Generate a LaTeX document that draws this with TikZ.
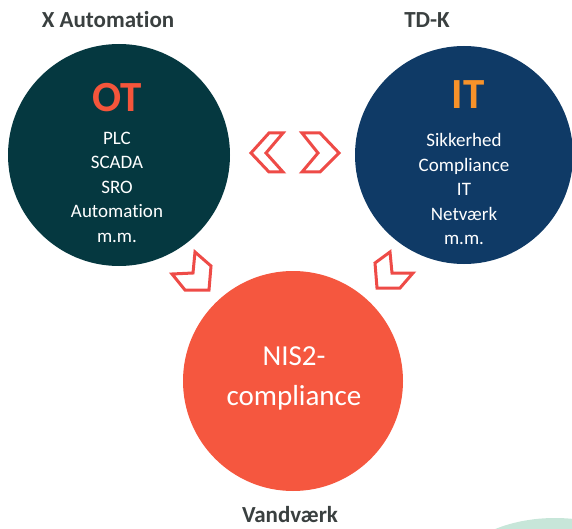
\documentclass[tikz,border=0pt]{standalone}
\usepackage{fontspec}
\setmainfont{Carlito}[Ligatures=CommonOff]
\definecolor{otcol}{HTML}{053840}
\definecolor{itcol}{HTML}{0F3A66}
\definecolor{niscol}{HTML}{F5573F}
\definecolor{ottxt}{HTML}{F5553B}
\definecolor{ittxt}{HTML}{F7922A}
\definecolor{labcol}{HTML}{3A4040}
\definecolor{chevcol}{HTML}{EE4B47}
\definecolor{greencol}{HTML}{C7E6D9}
\tikzset{
  bigcirc/.style={circle, minimum size=#1, inner sep=0pt},
  title/.style={text=labcol, inner sep=1pt, font=\bfseries\fontsize{23}{26}\selectfont},
  body/.style={text=white, align=center, font=\fontsize{19}{24.5}\selectfont},
  chev/.style={draw=chevcol, line width=3pt, fill=white, line join=miter},
}
\begin{document}
\begin{tikzpicture}[x=1pt,y=-1pt]
\useasboundingbox (0,0) rectangle (572,529);
\begin{scope}
\clip (0,0) rectangle (572,529);
\fill[greencol] (555,580) ellipse [x radius=105, y radius=62];
\end{scope}
\node[bigcirc=222pt, fill=otcol] (ot) at (119,155) {};
\node[bigcirc=218pt, fill=itcol] (it) at (464,155) {};
\node[bigcirc=220pt, fill=niscol] (nis) at (293,381) {};
\node[title] (tX) at (108,20) {X Automation};
\node[title] (tTD) at (427,20) {TD-K};
\node[title] (tV) at (290,515) {Vandværk};
\node[text=ottxt, font=\bfseries\fontsize{43}{44}\selectfont] (otl) at (117,98) {OT};
\node[text=ittxt, font=\bfseries\fontsize{43}{44}\selectfont] (itl) at (468,95) {IT};
\node[body] (otb) at (117,187) {PLC\\SCADA\\SRO\\Automation\\m.m.};
\node[body] (itb) at (464,189) {Sikkerhed\\Compliance\\IT\\Netværk\\m.m.};
\node[text=white, align=center, font=\fontsize{29}{40}\selectfont] (nisl) at (294,378) {NIS2-\\compliance};
% chevrons
\draw[chev] (251,153) -- (269,133) -- (283,133) -- (266,153) -- (283,172) -- (269,172) -- cycle;
\draw[chev] (302,133) -- (320,133) -- (339,153) -- (320,172) -- (302,172) -- (318,153) -- cycle;
\draw[chev] (195,252) -- (211,266) -- (209,290) -- (185,290) -- (172,274) -- (193,273) -- cycle;
\draw[chev] (390,252) -- (392,273) -- (413,273) -- (400,288) -- (377,288) -- (375,263) -- cycle;
\end{tikzpicture}
\end{document}
